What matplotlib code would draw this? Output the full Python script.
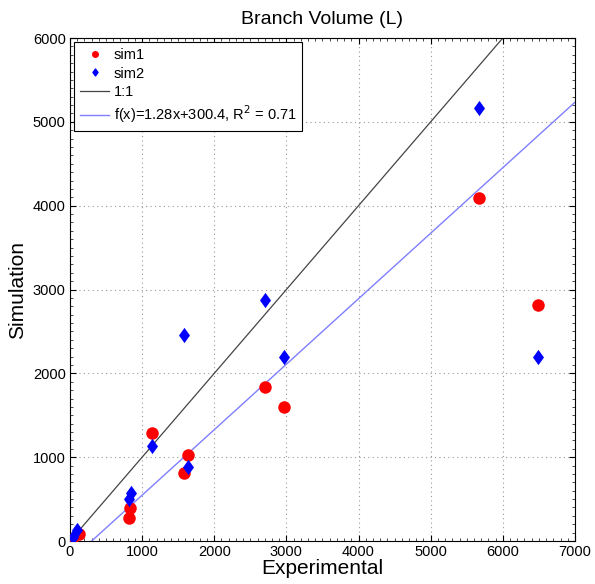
import numpy as np
import matplotlib
matplotlib.use('Agg')
import matplotlib.pyplot as plt
from matplotlib.lines import Line2D
from matplotlib.path import Path
from matplotlib.ticker import MultipleLocator

plt.rcParams['font.family'] = ['Liberation Sans', 'DejaVu Sans']

# experimental vs simulated branch volume (L)
sim1_x = [30, 130, 820, 830, 1140, 1580, 1640, 2700, 2960, 5670, 6490]
sim1_y = [20, 80, 280, 390, 1290, 810, 1030, 1840, 1600, 4090, 2820]
sim2_x = [40, 100, 820, 840, 1140, 1580, 1640, 2700, 2970, 5670, 6490]
sim2_y = [50, 130, 500, 570, 1130, 2460, 880, 2880, 2190, 5170, 2190]

# fit reported as f(x)=1.28x+300.4 (drawn with axes swapped)
fit_slope = 1.28
fit_icpt = 300.4
fit_label = 'f(x)=1.28x+300.4, R$^2$ = 0.71'

# matlab-like diamond, a bit fatter than matplotlib's 'd'
diamond = Path([(0, 1), (0.72, 0), (0, -1), (-0.72, 0), (0, 1)],
               [Path.MOVETO, Path.LINETO, Path.LINETO, Path.LINETO, Path.CLOSEPOLY])

fig = plt.figure(figsize=(5.95, 5.84), dpi=100)
ax = fig.add_axes([0.1176, 0.0736, 0.8487, 0.8613])

ax.plot(sim1_x, sim1_y, 'o', color='red', markersize=9, markeredgewidth=0, zorder=3)
ax.plot(sim2_x, sim2_y, marker=diamond, linestyle='none', color='blue',
        markersize=11, markeredgewidth=0, zorder=3)

one = np.array([0, 6000])
ax.plot(one, one, color='#444444', linewidth=0.9)

xf = np.array([fit_icpt, 7000])
ax.plot(xf, (xf - fit_icpt) / fit_slope, color='#7f7fff', linewidth=1.0)

ax.set_xlim(0, 7000)
ax.set_ylim(0, 6000)
ax.xaxis.set_major_locator(MultipleLocator(1000))
ax.yaxis.set_major_locator(MultipleLocator(1000))
ax.xaxis.set_minor_locator(MultipleLocator(100))
ax.yaxis.set_minor_locator(MultipleLocator(100))
ax.tick_params(which='both', direction='in', top=True, right=True, labelsize=10.5, pad=3)
ax.tick_params(which='major', length=4, width=0.8)
ax.tick_params(which='minor', length=2, width=0.5)
ax.grid(True, which='major', linestyle=(0, (1, 3)), color='#999999', linewidth=0.8)
for s in ax.spines.values():
    s.set_linewidth(0.8)

ax.set_title('Branch Volume (L)', fontsize=14, pad=10)
ax.set_xlabel('Experimental', fontsize=15, labelpad=0)
ax.set_ylabel('Simulation', fontsize=15, labelpad=4)

handles = [
    Line2D([], [], marker='o', color='red', linestyle='none', markersize=4),
    Line2D([], [], marker=diamond, color='blue', linestyle='none', markersize=5),
    Line2D([], [], color='#444444', linewidth=0.9),
    Line2D([], [], color='#7f7fff', linewidth=1.0),
]
leg = ax.legend(handles, ['sim1', 'sim2', '1:1', fit_label], loc='upper left',
                fontsize=10.5, fancybox=False, edgecolor='black', framealpha=1,
                handlelength=2.0, handletextpad=0.3, labelspacing=0.3,
                borderaxespad=0.3, borderpad=0.4)
leg.get_frame().set_linewidth(0.8)

fig.savefig('out.png', dpi=100)
